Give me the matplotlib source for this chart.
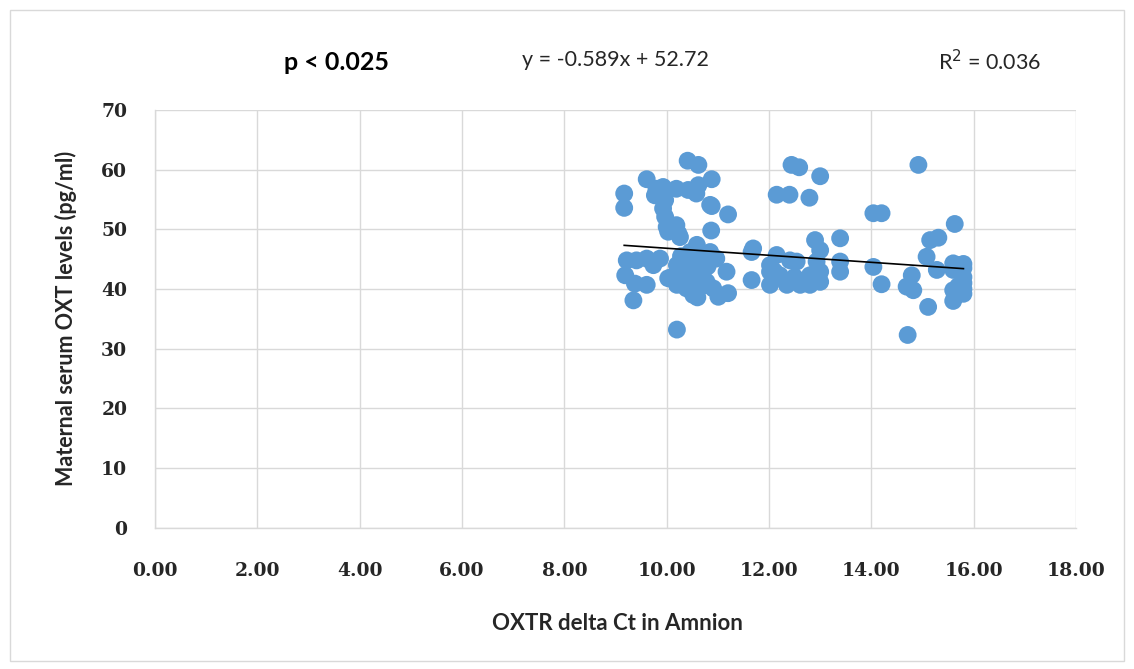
import matplotlib
matplotlib.use("Agg")
import matplotlib.pyplot as plt
import numpy as np
from matplotlib.patches import Rectangle

plt.rcParams['font.family'] = ['Lato', 'DejaVu Sans']

# Data
x_vals = [9.17, 9.17, 9.61, 10.41, 10.62, 10.88, 10.88, 11.20, 10.87, 10.20, 9.35,
          9.80, 9.77, 9.93, 10.19, 10.42, 10.58, 10.62, 9.97, 9.93, 9.97, 10.00,
          10.19, 10.03, 10.23, 10.85, 10.59, 10.26,
          9.22, 9.19, 9.41, 9.61, 9.74, 9.38, 9.61, 10.20, 10.20, 10.39, 10.52,
          10.59, 10.78, 10.97, 11.17, 11.20, 11.01, 10.46, 10.85, 9.87, 10.03,
          10.39, 10.71, 10.91, 10.30, 10.45, 10.65, 10.10, 10.55, 10.70,
          10.35, 10.50, 10.62, 10.28, 10.80, 10.60,
          11.66, 11.66, 11.69, 12.15, 12.02, 12.02, 12.21, 12.41, 12.54, 12.35,
          12.61, 12.80, 12.80, 13.00, 13.00, 12.90, 13.00, 13.39, 13.39, 13.39,
          12.02, 12.93, 12.44, 12.59, 13.00, 12.15, 12.40, 12.79, 12.10, 12.50,
          14.92, 14.04, 14.20, 15.63, 15.15, 15.31, 15.08, 15.28, 14.79, 14.69,
          14.82, 14.20, 14.04, 15.11, 14.71, 15.80, 15.80, 15.80, 15.80, 15.80,
          15.80, 15.60, 15.60, 15.60, 15.60, 15.70, 15.70]
y_vals = [56.0, 53.6, 58.4, 61.5, 60.8, 58.4, 53.9, 52.5, 49.8, 33.2, 38.1,
          56.8, 55.7, 57.1, 56.8, 56.6, 56.0, 57.4, 54.9, 53.5, 52.1, 50.4,
          50.7, 49.6, 49.3, 54.1, 47.4, 48.7,
          44.8, 42.3, 44.8, 45.1, 44.0, 40.9, 40.7, 44.0, 40.7, 42.3, 39.0,
          45.1, 41.2, 45.1, 42.9, 39.3, 38.7, 46.2, 46.2, 45.1, 41.8,
          40.1, 42.9, 40.1, 43.0, 43.5, 44.5, 42.0, 39.8, 40.5,
          41.5, 41.0, 42.0, 45.5, 43.8, 38.6,
          46.2, 41.5, 46.8, 45.7, 44.0, 40.7, 42.3, 44.8, 44.6, 40.7,
          40.7, 42.3, 40.7, 42.9, 41.2, 48.2, 46.5, 48.5, 42.9, 44.6,
          42.9, 44.6, 60.8, 60.4, 58.9, 55.8, 55.8, 55.3, 43.0, 42.0,
          60.8, 52.7, 52.7, 50.9, 48.2, 48.6, 45.4, 43.2, 42.3, 40.4,
          39.8, 40.8, 43.7, 37.0, 32.3, 44.2, 43.5, 42.0, 41.0, 40.0,
          39.2, 44.3, 43.2, 39.8, 38.0, 44.0, 40.5]

slope = -0.589
intercept = 52.72

x_ticks = [0, 2, 4, 6, 8, 10, 12, 14, 16, 18]
y_ticks = [0, 10, 20, 30, 40, 50, 60, 70]

W, H = 1134, 669
fig = plt.figure(figsize=(W / 100, H / 100), dpi=100)
# outer chart border
fig.patches.append(Rectangle((10 / W, 8 / H), 1114 / W, 651 / H,
                             transform=fig.transFigure, fill=False,
                             edgecolor='#D9D9D9', linewidth=1.0))

x0, x1, ybot, ytop = 155, 1076, 527.7, 110
ax = fig.add_axes([x0 / W, 1 - ybot / H, (x1 - x0) / W, (ybot - ytop) / H])
ax.set_xlim(0, 18)
ax.set_ylim(0, 70)
ax.set_xticks(x_ticks)
ax.set_yticks(y_ticks)
ax.set_xticklabels([f"{t:.2f}" for t in x_ticks])
ax.set_yticklabels([str(t) for t in y_ticks])
ax.grid(True, color='#D9D9D9', linewidth=1.0)
ax.set_axisbelow(True)
for s in ['top', 'right']:
    ax.spines[s].set_visible(False)
for s in ['left', 'bottom']:
    ax.spines[s].set_color('#D9D9D9')
    ax.spines[s].set_linewidth(1.0)
ax.tick_params(axis='x', length=0, pad=25, labelsize=13.5, colors='#262626')
ax.tick_params(axis='y', length=0, pad=20, labelsize=13.5, colors='#262626')
for lab in ax.get_xticklabels() + ax.get_yticklabels():
    lab.set_fontweight('bold')
    lab.set_family(['DejaVu Serif'])

ax.scatter(x_vals, y_vals, s=165, color='#5B9BD5', edgecolors='none', zorder=3)

xl = np.array([min(x_vals), max(x_vals)])
ax.plot(xl, slope * xl + intercept, color='black', linewidth=1.2, zorder=4)

ax.set_xlabel('OXTR delta Ct in Amnion', fontsize=16, fontweight='bold',
              color='#262626')
ax.set_ylabel('Maternal serum OXT levels (pg/ml)', fontsize=15.5, fontweight='bold',
              color='#262626')
ax.xaxis.set_label_coords((617 - x0) / (x1 - x0), (ybot - 623) / (ybot - ytop))
ax.yaxis.set_label_coords((66 - x0) / (x1 - x0), 0.5)
ax.xaxis.label.set_va('center')
ax.yaxis.label.set_va('center')

fig.text(337 / W, 1 - 62 / H, 'p < 0.025', fontsize=18, fontweight='bold',
         ha='center', va='center', color='black')
fig.text(615 / W, 1 - 60 / H, 'y = -0.589x + 52.72', fontsize=15.5,
         ha='center', va='center', color='#262626')
fig.text(990 / W, 1 - 62 / H, 'R$^2$ = 0.036', fontsize=15.5,
         ha='center', va='center', color='#262626')

fig.savefig('out.png', dpi=100)
